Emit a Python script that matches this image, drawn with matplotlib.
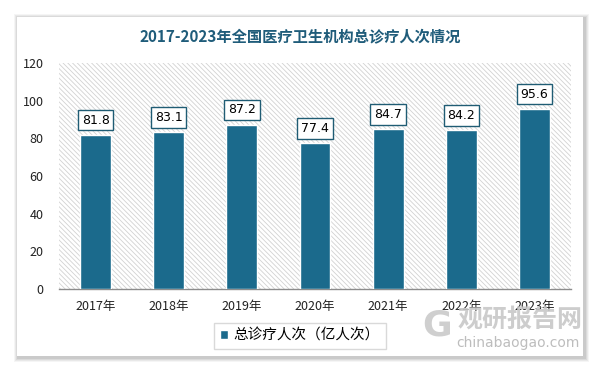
import matplotlib
matplotlib.use("Agg")
import matplotlib.pyplot as plt
from matplotlib.patches import Rectangle

plt.rcParams['font.family'] = ['Noto Sans CJK SC', 'DejaVu Sans']
plt.rcParams['hatch.linewidth'] = 0.6
plt.rcParams['hatch.color'] = '#d2d2d2'

years = ['2017年', '2018年', '2019年', '2020年', '2021年', '2022年', '2023年']
values = [81.8, 83.1, 87.2, 77.4, 84.7, 84.2, 95.6]
series_name = '总诊疗人次（亿人次）'
title = '2017-2023年全国医疗卫生机构总诊疗人次情况'
yticks = [0, 20, 40, 60, 80, 100, 120]

W, H = 598, 369
fig = plt.figure(figsize=(W / 100, H / 100), dpi=100)
fig.patch.set_facecolor('white')

# card shadow and card
for i, a in enumerate([0.04, 0.05, 0.06, 0.07]):
    d = 4 - i
    fig.patches.append(Rectangle(((17 - d + 1) / W, (H - 357 - d - 1) / H),
                                 (567 + 2 * d) / W, (340 + 2 * d) / H,
                                 transform=fig.transFigure, facecolor='black',
                                 alpha=a, edgecolor='none', zorder=0))
fig.patches.append(Rectangle((17 / W, (H - 356) / H), 566 / W, 339 / H,
                             transform=fig.transFigure, facecolor='white',
                             edgecolor='none', zorder=1))

ax = fig.add_axes([59 / W, (H - 289) / H, 512 / W, 226 / H])
ax.set_zorder(2)
ax.patch.set_facecolor('white')
ax.patch.set_hatch('\\\\\\\\\\\\\\')
ax.patch.set_edgecolor('#d2d2d2')
ax.patch.set_linewidth(0)

color = '#1b6a8c'
x = list(range(len(years)))
bars = ax.bar(x, values, width=0.42, color=color, edgecolor='white',
              linewidth=1.0, label=series_name, zorder=3)

for xi, v in zip(x, values):
    ax.annotate(f'{v}', (xi, v), xytext=(0, 6), textcoords='offset points',
                ha='center', va='bottom', fontsize=9, color='black',
                family=['DejaVu Sans'],
                bbox=dict(boxstyle='square,pad=0.3', facecolor='white',
                          edgecolor='#1f5c74', linewidth=1.0), zorder=4)

ax.set_xlim(-0.5, len(years) - 0.5)
ax.set_ylim(0, 120)
ax.set_yticks(yticks)
ax.set_yticklabels([str(t) for t in yticks], fontsize=9)
ax.set_xticks(x)
ax.set_xticklabels(years, fontsize=9)
ax.tick_params(axis='both', length=0, pad=8, colors='#222222')
ax.tick_params(axis='y', pad=11)
for s in ['top', 'right', 'left']:
    ax.spines[s].set_visible(False)
ax.spines['bottom'].set_color('#8c8c8c')
ax.spines['bottom'].set_linewidth(1.0)

fig.text(300 / W, 1 - 37 / H, title, ha='center', va='center', fontsize=11,
         fontweight='bold', color='#1f5c7a', zorder=5)

leg = fig.legend(handles=[bars], labels=[series_name], loc='center',
                 bbox_to_anchor=(300 / W, 1 - 336 / H), fontsize=10.5,
                 frameon=True, fancybox=False, edgecolor='#d0d0d0',
                 handlelength=0.55, handleheight=0.55, handletextpad=0.4,
                 borderpad=0.4, borderaxespad=0)
leg.get_frame().set_linewidth(1.0)
leg.set_zorder(5)

# watermark
fig.text(520 / W, 1 - 320 / H, '观研报告网', ha='center', va='center',
         fontsize=18, fontweight='bold', color='#c8c8c8', alpha=0.9, zorder=6)
fig.text(518 / W, 1 - 343 / H, 'chinabaogao.com', ha='center', va='center',
         fontsize=10, color='#bdbdbd', zorder=6, family=['DejaVu Sans'])
fig.text(437 / W, 1 - 326 / H, 'G', ha='center', va='center', fontsize=26,
         fontweight='bold', color='#cfcfcf', zorder=6, family=['DejaVu Sans'])

fig.savefig('out.png', dpi=100, facecolor=fig.get_facecolor())
